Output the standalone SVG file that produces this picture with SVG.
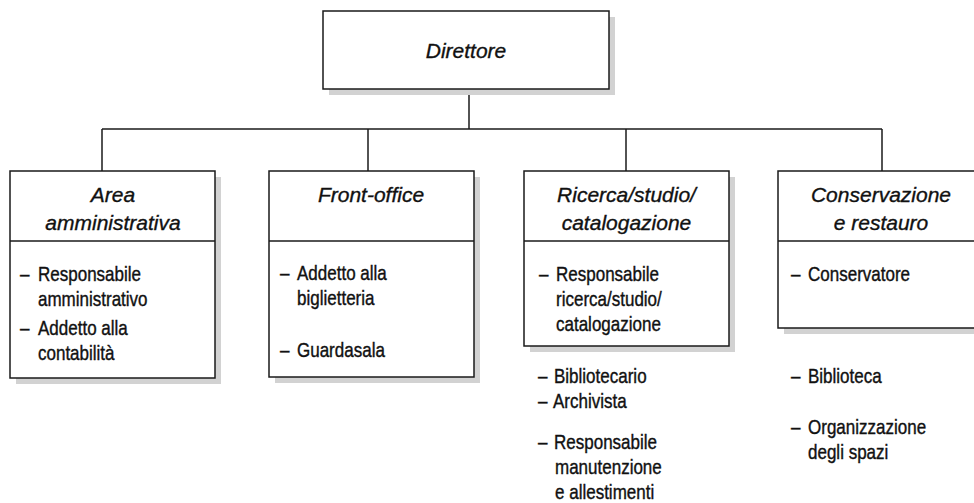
<svg xmlns="http://www.w3.org/2000/svg" width="974" height="503" viewBox="0 0 974 503">
  <style>
    .box { fill: #ffffff; stroke: #1a1a1a; stroke-width: 1.5; }
    .shadow { fill: #d2d2d2; stroke: none; }
    .rule { stroke: #1a1a1a; stroke-width: 1.5; fill: none; }
    .link { stroke: #1a1a1a; stroke-width: 1.5; fill: none; }
    .title { font-family: "Liberation Sans", Arial, sans-serif; font-style: italic; font-size: 21px; fill: #111111; stroke: #111111; stroke-width: 0.35; text-anchor: middle; }
    .item { font-family: "Liberation Sans", Arial, sans-serif; font-size: 21px; fill: #111111; stroke: #111111; stroke-width: 0.4; }
  </style>

  <!-- connectors -->
  <g id="connectors">
    <line class="link" x1="469" y1="89" x2="469" y2="129"/>
    <line class="link" x1="102" y1="129" x2="882" y2="129"/>
    <line class="link" x1="102" y1="129" x2="102" y2="171"/>
    <line class="link" x1="368" y1="129" x2="368" y2="171"/>
    <line class="link" x1="626" y1="129" x2="626" y2="171"/>
    <line class="link" x1="882" y1="129" x2="882" y2="171"/>
  </g>

  <!-- top node -->
  <g id="direttore">
    <rect class="shadow" x="329" y="17" width="286" height="78"/>
    <rect class="box" x="323" y="11" width="286" height="78"/>
    <text class="title" x="466" y="58">Direttore</text>
  </g>

  <!-- administration -->
  <g id="area-amministrativa">
    <rect class="shadow" x="16" y="177" width="205" height="207"/>
    <rect class="box" x="10" y="171" width="205" height="207"/>
    <line class="rule" x1="10" y1="241" x2="215" y2="241"/>
    <text class="title" x="113" y="202">Area</text>
    <text class="title" x="113" y="230">amministrativa</text>
    <text class="item" transform="translate(20,281) scale(0.81,1)">–</text>
    <text class="item" transform="translate(38,281) scale(0.81,1)">Responsabile</text>
    <text class="item" transform="translate(38,305.5) scale(0.81,1)">amministrativo</text>
    <text class="item" transform="translate(20,335) scale(0.81,1)">–</text>
    <text class="item" transform="translate(38,335) scale(0.81,1)">Addetto alla</text>
    <text class="item" transform="translate(38,360) scale(0.81,1)">contabilità</text>
  </g>

  <!-- front office -->
  <g id="front-office">
    <rect class="shadow" x="275" y="177" width="205" height="206"/>
    <rect class="box" x="269" y="171" width="205" height="206"/>
    <line class="rule" x1="269" y1="241" x2="474" y2="241"/>
    <text class="title" x="371" y="202">Front-office</text>
    <text class="item" transform="translate(280,280) scale(0.81,1)">–</text>
    <text class="item" transform="translate(297,280) scale(0.81,1)">Addetto alla</text>
    <text class="item" transform="translate(297,305) scale(0.81,1)">biglietteria</text>
    <text class="item" transform="translate(280,357) scale(0.81,1)">–</text>
    <text class="item" transform="translate(297,357) scale(0.81,1)">Guardasala</text>
  </g>

  <!-- research -->
  <g id="ricerca">
    <rect class="shadow" x="530" y="177" width="205" height="175"/>
    <rect class="box" x="524" y="171" width="205" height="175"/>
    <line class="rule" x1="524" y1="241" x2="729" y2="241"/>
    <text class="title" x="626.5" y="202">Ricerca/studio/</text>
    <text class="title" x="626.5" y="230">catalogazione</text>
    <text class="item" transform="translate(539,281) scale(0.81,1)">–</text>
    <text class="item" transform="translate(556,281) scale(0.81,1)">Responsabile</text>
    <text class="item" transform="translate(556,306) scale(0.81,1)">ricerca/studio/</text>
    <text class="item" transform="translate(556,331) scale(0.81,1)">catalogazione</text>
  </g>
  <g id="ricerca-extra">
    <text class="item" transform="translate(538,383) scale(0.81,1)">–</text>
    <text class="item" transform="translate(554,383) scale(0.81,1)">Bibliotecario</text>
    <text class="item" transform="translate(538,408) scale(0.81,1)">–</text>
    <text class="item" transform="translate(553,408) scale(0.81,1)">Archivista</text>
    <text class="item" transform="translate(538,449) scale(0.81,1)">–</text>
    <text class="item" transform="translate(554,449) scale(0.81,1)">Responsabile</text>
    <text class="item" transform="translate(555,474) scale(0.81,1)">manutenzione</text>
    <text class="item" transform="translate(555,499) scale(0.81,1)">e allestimenti</text>
  </g>

  <!-- conservation -->
  <g id="conservazione">
    <rect class="shadow" x="784" y="177" width="205" height="157"/>
    <rect class="box" x="778" y="171" width="205" height="157"/>
    <line class="rule" x1="778" y1="241" x2="983" y2="241"/>
    <text class="title" x="881" y="202">Conservazione</text>
    <text class="title" x="881" y="230">e restauro</text>
    <text class="item" transform="translate(791,281) scale(0.81,1)">–</text>
    <text class="item" transform="translate(808,281) scale(0.81,1)">Conservatore</text>
  </g>
  <g id="conservazione-extra">
    <text class="item" transform="translate(791,383) scale(0.81,1)">–</text>
    <text class="item" transform="translate(808,383) scale(0.81,1)">Biblioteca</text>
    <text class="item" transform="translate(791,434) scale(0.81,1)">–</text>
    <text class="item" transform="translate(808,434) scale(0.81,1)">Organizzazione</text>
    <text class="item" transform="translate(808,459) scale(0.81,1)">degli spazi</text>
  </g>
</svg>
